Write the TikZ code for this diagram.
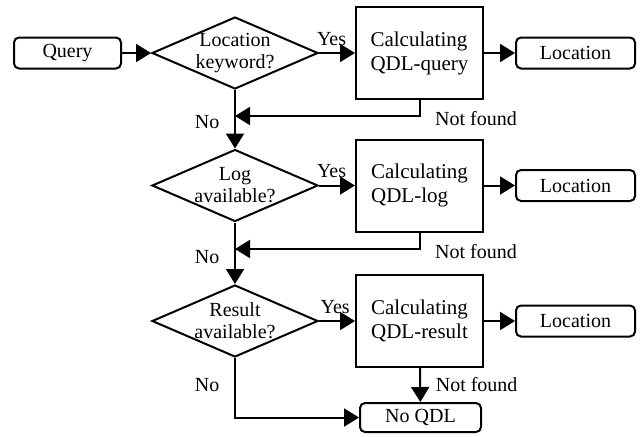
\documentclass[tikz,border=0pt]{standalone}
\usepackage{fontspec}
\setmainfont{Liberation Serif}
\usetikzlibrary{arrows.meta,shapes.geometric}
\tikzset{
    >={Triangle[length=7.5pt,width=9pt]},
    term/.style={draw, rounded corners=2.5pt, minimum height=15.5pt, inner sep=0pt,
        font=\fontsize{10}{11}\selectfont},
    decision/.style={draw, diamond, minimum width=83pt, minimum height=36pt, inner sep=0pt,
        label={[align=center, font=\fontsize{10}{11}\selectfont]center:#1}},
    calcbox/.style={draw, minimum width=63.5pt, minimum height=46pt, inner sep=0pt,
        align=left, font=\fontsize{10.5}{12}\selectfont},
    lbl/.style={font=\fontsize{10}{11}\selectfont}
}

\begin{document}
\begin{tikzpicture}[x=0.5pt, y=-0.5pt, line width=1pt]
    \useasboundingbox (0, 0) rectangle (641, 436);
    \node [term, minimum width=53.5pt] (query) at (67.5, 53) {Query};
    \node [decision={Location\\keyword?}] (dec1) at (235, 53) {};
    \node [calcbox] (calc1) at (419.5, 53) {Calculating\\QDL-query};
    \node [term, minimum width=59.5pt] (loc1) at (575.5, 53) {Location};
    \node [decision={Log\\available?}] (dec2) at (235, 185.5) {};
    \node [calcbox] (calc2) at (419.5, 185.5) {Calculating\\QDL-log};
    \node [term, minimum width=59.5pt] (loc2) at (575.5, 185.5) {Location};
    \node [decision={Result\\available?}] (dec3) at (235, 321) {};
    \node [calcbox] (calc3) at (419.5, 321) {Calculating\\QDL-result};
    \node [term, minimum width=59.5pt] (loc3) at (575.5, 321) {Location};
    \node [term, minimum width=60.5pt, minimum height=14.5pt] (noqdl) at (420.5, 417.5) {No QDL};
    \coordinate (j1) at (235, 116);
    \coordinate (j2) at (235, 249);
    \draw [->] (query) -- (dec1);
    \draw [->] (dec1) -- node [lbl, above, pos=0.35] {Yes} (calc1);
    \draw [->] (calc1) -- (loc1);
    \draw [->] (dec1) -- node [lbl, left=4pt, pos=0.55] {No} (dec2);
    \draw [->] (calc1.south) |- node [lbl, right=4pt, pos=0.5, yshift=-1.5pt] {Not found} (j1);
    \draw [->] (dec2) -- node [lbl, above, pos=0.35] {Yes} (calc2);
    \draw [->] (calc2) -- (loc2);
    \draw [->] (dec2) -- node [lbl, left=4pt, pos=0.56] {No} (dec3);
    \draw [->] (calc2.south) |- node [lbl, right=4pt, pos=0.5, yshift=-1.5pt] {Not found} (j2);
    \draw [->] (dec3) -- node [lbl, above, pos=0.45] {Yes} (calc3);
    \draw [->] (calc3) -- (loc3);
    \draw [->] (calc3) -- node [lbl, right=4pt] {Not found} (noqdl);
    \draw [->] (dec3) |- node [lbl, left=4pt, pos=0.23] {No} (noqdl);
\end{tikzpicture}
\end{document}
